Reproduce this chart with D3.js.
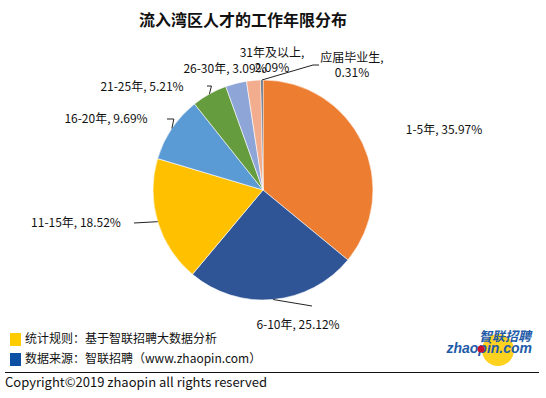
<!DOCTYPE html>
<html>
<head>
<meta charset="utf-8">
<script src="https://cdn.jsdelivr.net/npm/d3@7"></script>
<style>
  body { margin: 0; background: #fff; }
  text { font-family: "Microsoft YaHei", "Noto Sans CJK SC", sans-serif; }
</style>
</head>
<body>
<div id="chart"></div>
<script>
// data
var categories = ["1-5年", "6-10年", "11-15年", "16-20年", "21-25年", "26-30年", "31年及以上", "应届毕业生"];
var values = [35.97, 25.12, 18.52, 9.69, 5.21, 3.09, 2.09, 0.31];
var colors = ["#ED7D31", "#2F5597", "#FFC000", "#5B9BD5", "#659C3E", "#8EA5D8", "#F2AD8E", "#44546A"];

var width = 546, height = 398;
var cx = 263, cy = 190, radius = 110;

// label placement (centre of text block) and leader style, by slice
var labelPos = [
    { x: 444, y: 130, lines: 1, leader: null },
    { x: 298, y: 325, lines: 1, leader: "line", end: [312, 306] },
    { x: 76, y: 223, lines: 1, leader: "line", end: [134, 223] },
    { x: 106, y: 119, lines: 1, leader: "elbow", end: [167, 119] },
    { x: 142, y: 87, lines: 1, leader: "elbow", end: [207, 86] },
    { x: 225, y: 69, lines: 1, leader: null },
    { x: 272, y: 53, lines: 2, leader: null },
    { x: 352, y: 58, lines: 2, leader: "line2", end: [313, 65], tail: [319, 65] }
];

var svg = d3.select("#chart").append("svg")
    .attr("width", width)
    .attr("height", height);

// Title
svg.append("text")
    .attr("x", 243)
    .attr("y", 26)
    .attr("text-anchor", "middle")
    .style("font-size", "16px")
    .style("font-weight", "bold")
    .attr("fill", "#111")
    .text("流入湾区人才的工作年限分布");

var pie = d3.pie().sort(null).value(function (d) { return d; });
var arcs = pie(values);
var arc = d3.arc().innerRadius(0).outerRadius(radius);

var g = svg.append("g").attr("transform", "translate(" + cx + "," + cy + ")");

g.selectAll("path")
    .data(arcs)
    .enter()
    .append("path")
    .attr("d", arc)
    .attr("fill", function (d, i) { return colors[i]; })
    .attr("stroke", "#fff")
    .attr("stroke-width", 0.6);

// leader lines
function edgePoint(d) {
    var a = (d.startAngle + d.endAngle) / 2;
    return [cx + Math.sin(a) * radius, cy - Math.cos(a) * radius];
}

arcs.forEach(function (d, i) {
    var lp = labelPos[i];
    if (!lp.leader) return;
    var p = edgePoint(d);
    var pts;
    if (lp.leader === "elbow") {
        pts = [p, [p[0] + 2, lp.end[1]], lp.end];
    } else if (lp.leader === "line2") {
        pts = [p, lp.end, lp.tail];
    } else {
        pts = [p, lp.end];
    }
    svg.append("path")
        .attr("d", d3.line()(pts))
        .attr("fill", "none")
        .attr("stroke", "#222")
        .attr("stroke-width", 1);
});

// data labels
var fmt = d3.format(".2f");
arcs.forEach(function (d, i) {
    var lp = labelPos[i];
    var t = svg.append("text")
        .attr("text-anchor", "middle")
        .style("font-size", "12px")
        .attr("fill", "#111");
    if (lp.lines === 1) {
        t.attr("x", lp.x).attr("y", lp.y + 4)
            .text(categories[i] + ", " + fmt(values[i]) + "%");
    } else {
        t.append("tspan").attr("x", lp.x).attr("y", lp.y + 4).text(categories[i] + ",");
        t.append("tspan").attr("x", lp.x).attr("y", lp.y + 19).text(fmt(values[i]) + "%");
    }
});

// footer notes
var notes = [
    { color: "#FFCC00", text: "统计规则：基于智联招聘大数据分析", y: 339 },
    { color: "#0D4FA3", text: "数据来源：智联招聘（www.zhaopin.com）", y: 359 }
];
notes.forEach(function (n) {
    svg.append("rect")
        .attr("x", 10).attr("y", n.y - 6)
        .attr("width", 11).attr("height", 13)
        .attr("fill", n.color);
    svg.append("text")
        .attr("x", 25).attr("y", n.y + 4)
        .style("font-size", "12px")
        .attr("fill", "#111")
        .text(n.text);
});

svg.append("line")
    .attr("x1", 5).attr("x2", 539)
    .attr("y1", 372.5).attr("y2", 372.5)
    .attr("stroke", "#111")
    .attr("stroke-width", 1);

svg.append("text")
    .attr("x", 5).attr("y", 387)
    .style("font-size", "13px")
    .attr("fill", "#111")
    .text("Copyright©2019 zhaopin all rights reserved");

// logo
var logo = svg.append("g");
logo.append("circle").attr("cx", 498).attr("cy", 350).attr("r", 16).attr("fill", "#FFD21F");
logo.append("text")
    .attr("x", 531).attr("y", 341)
    .attr("text-anchor", "end")
    .style("font-size", "13px")
    .style("font-weight", "bold")
    .style("font-style", "italic")
    .attr("fill", "#1E5BA8")
    .text("智联招聘");
logo.append("text")
    .attr("x", 532).attr("y", 353)
    .attr("text-anchor", "end")
    .style("font-size", "14px")
    .style("font-weight", "bold")
    .style("font-style", "italic")
    .style("font-family", "Arial, 'Liberation Sans', sans-serif")
    .attr("fill", "#1E5BA8")
    .text("zhaopin.com");
logo.append("circle").attr("cx", 481).attr("cy", 349).attr("r", 3.5).attr("fill", "#C8102E");
</script>
</body>
</html>
